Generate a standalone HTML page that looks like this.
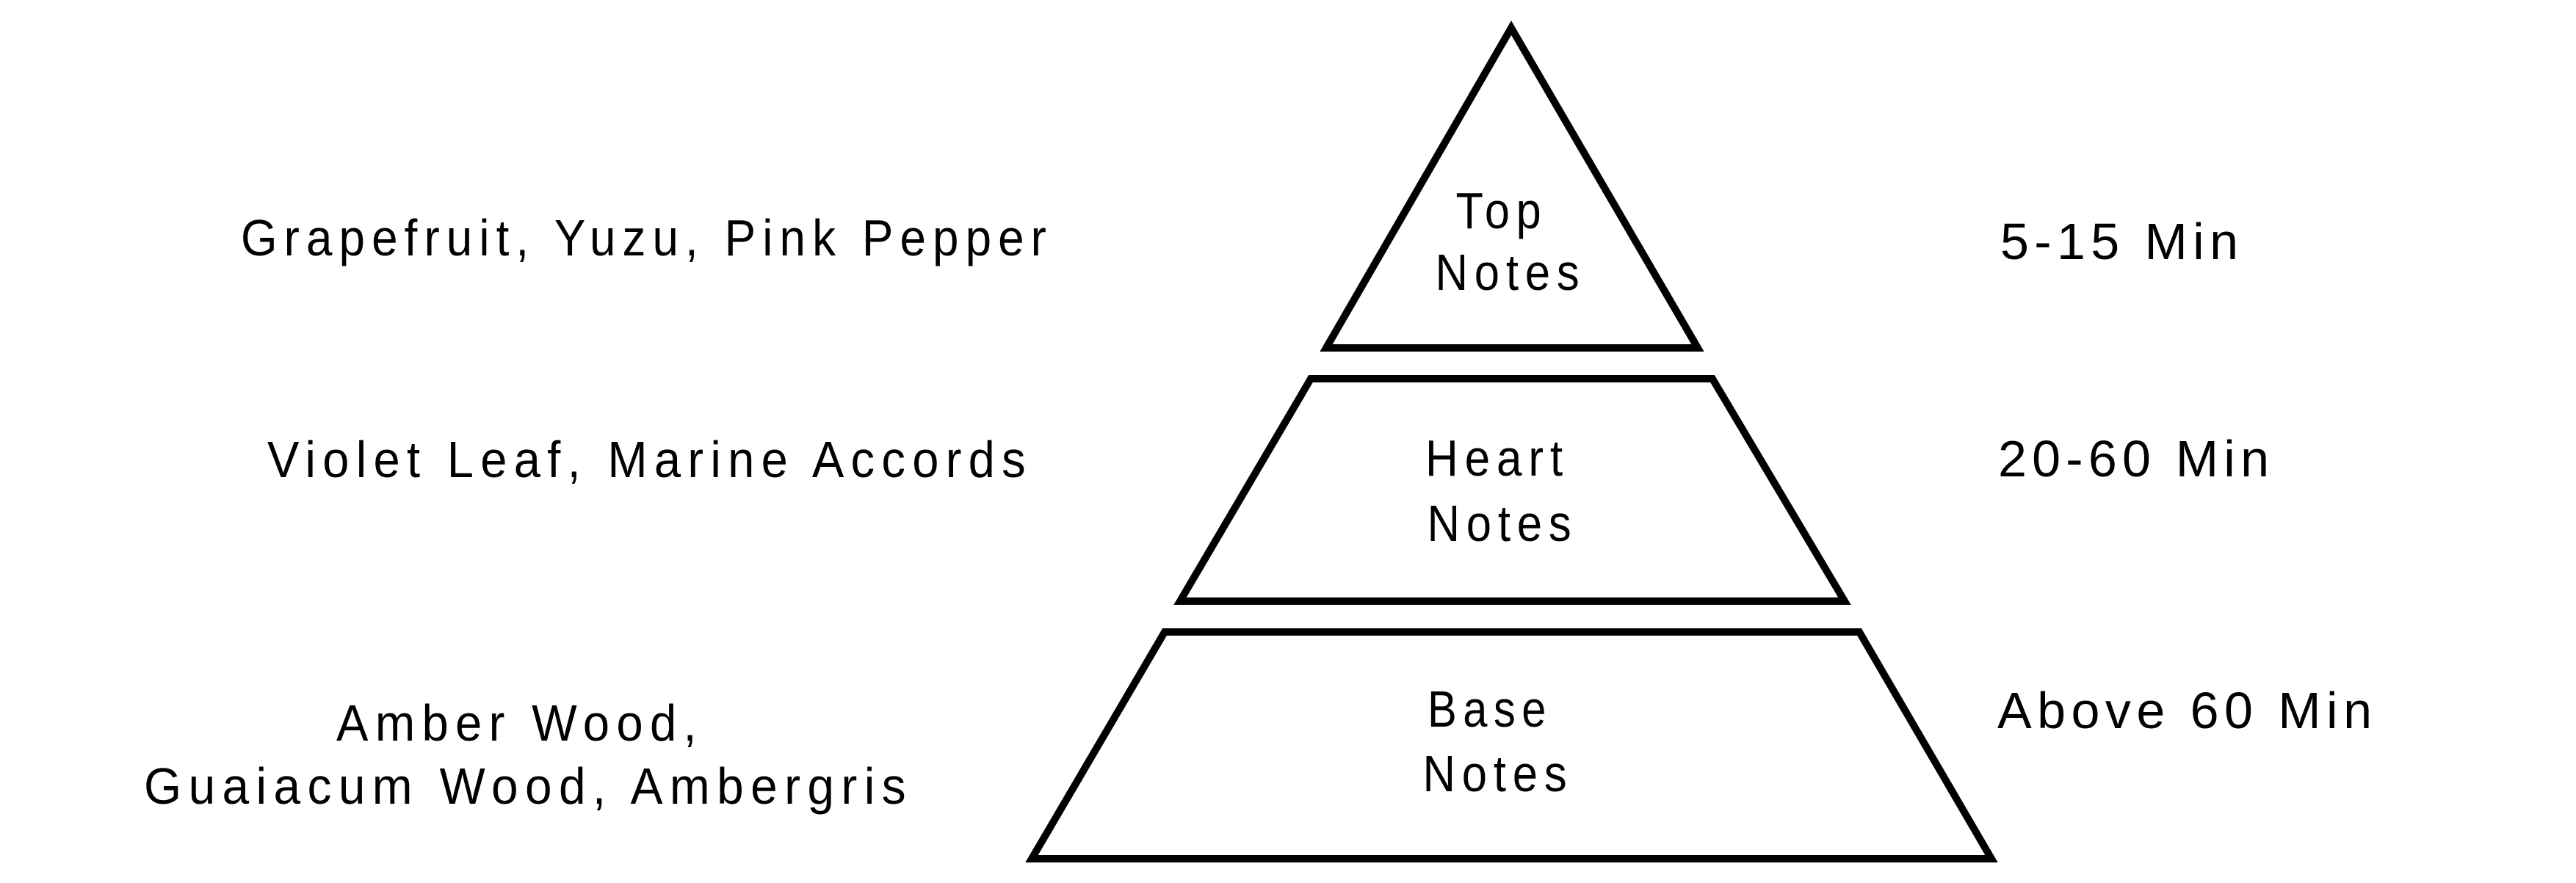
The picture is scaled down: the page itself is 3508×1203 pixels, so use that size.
<!DOCTYPE html>
<html><head><meta charset="utf-8"><style>
html,body{margin:0;padding:0;background:#fff;}
svg{display:block;}
text{font-family:"Liberation Sans",sans-serif;font-size:68px;fill:#000;}
.c{letter-spacing:10px;font-size:70px;}
.r{font-size:70px;}
</style></head><body>
<svg width="3508" height="1203" viewBox="0 0 3508 1203" xmlns="http://www.w3.org/2000/svg">
<g fill="none" stroke="#000" stroke-width="10" stroke-linejoin="miter">
<polygon points="2058,38 2312,474 1806,474"/>
<polygon points="1785,516 2332,516 2512,819 1607,819"/>
<polygon points="1586,861 2532,861 2712,1170 1405,1170"/>
</g>
<g text-anchor="middle">
<text class="c" x="2045" y="311" textLength="125" lengthAdjust="spacingAndGlyphs">Top</text>
<text class="c" x="2057" y="395" textLength="205" lengthAdjust="spacingAndGlyphs">Notes</text>
<text class="c" x="2039" y="648" textLength="196" lengthAdjust="spacingAndGlyphs">Heart</text>
<text class="c" x="2046" y="737" textLength="205" lengthAdjust="spacingAndGlyphs">Notes</text>
<text class="c" x="2029" y="990" textLength="170" lengthAdjust="spacingAndGlyphs">Base</text>
<text class="c" x="2040" y="1078" textLength="205" lengthAdjust="spacingAndGlyphs">Notes</text>
</g>
<text class="c" x="328" y="348" textLength="1106" lengthAdjust="spacingAndGlyphs">Grapefruit, Yuzu, Pink Pepper</text>
<text class="c" x="364" y="650" textLength="1042" lengthAdjust="spacingAndGlyphs">Violet Leaf, Marine Accords</text>
<text class="c" x="458" y="1009" textLength="500" lengthAdjust="spacingAndGlyphs">Amber Wood,</text>
<text class="c" x="196" y="1095" textLength="1047" lengthAdjust="spacingAndGlyphs">Guaiacum Wood, Ambergris</text>
<text class="r" x="2724" y="353" textLength="324" lengthAdjust="spacing">5-15 Min</text>
<text class="r" x="2721" y="649" textLength="369" lengthAdjust="spacing">20-60 Min</text>
<text class="r" x="2720" y="992" textLength="510" lengthAdjust="spacing">Above 60 Min</text>
</svg>
</body></html>
